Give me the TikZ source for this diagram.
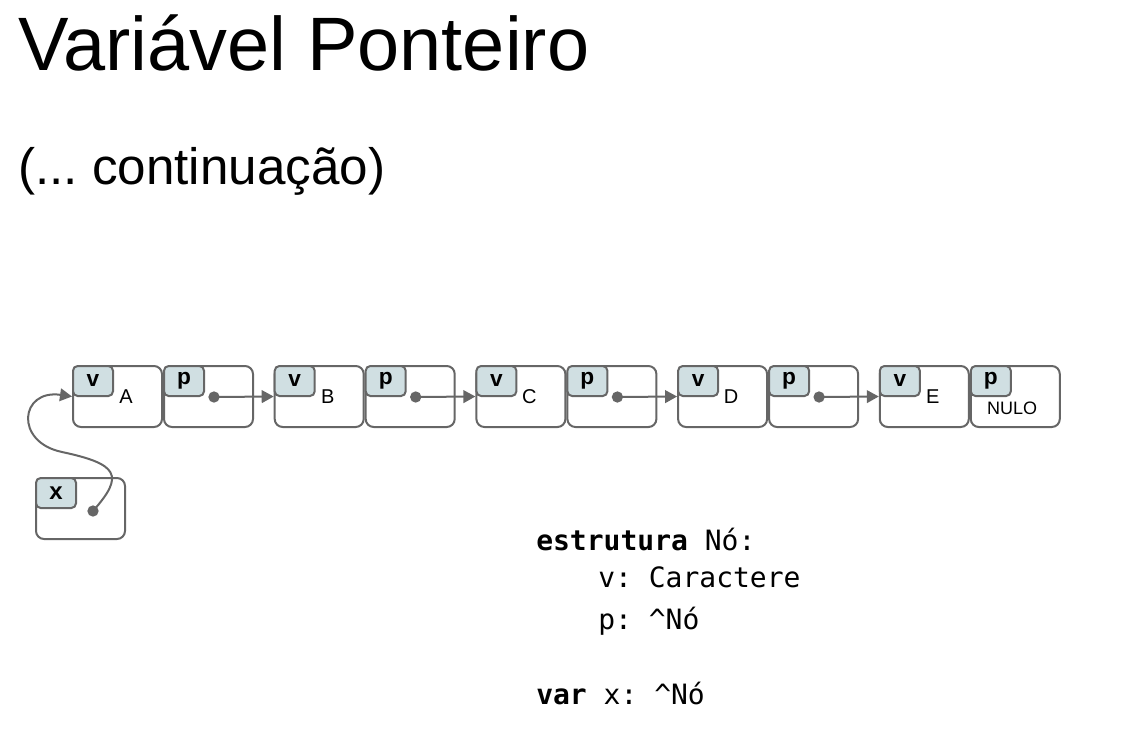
\documentclass[tikz,border=0pt]{standalone}
\usepackage{fontspec}
\setmainfont{Liberation Sans}
\newfontfamily\codefont{DejaVu Sans Mono}
\usetikzlibrary{arrows.meta}
\definecolor{linegray}{HTML}{666666}
\definecolor{tagfill}{HTML}{D0DFE2}
\tikzset{
  cell/.style={draw=linegray, line width=1.5pt, rounded corners=6pt, minimum width=66.75pt, minimum height=45.75pt, anchor=north west, inner sep=0pt},
  tagbox/.style={draw=linegray, fill=tagfill, line width=1.5pt, rounded corners=3.5pt, minimum width=30pt, minimum height=22.5pt, anchor=north west, inner sep=0pt, font=\bfseries\fontsize{17}{17}\selectfont},
  lbl/.style={font=\fontsize{15}{15}\selectfont, inner sep=0pt},
  ptr/.style={draw=linegray, line width=1.5pt, -{Triangle[length=9pt,width=9.5pt]}},
  dotc/.style={circle, fill=linegray, inner sep=0pt, minimum size=8.5pt},
  code/.style={font=\codefont\fontsize{21}{21}\selectfont, anchor=base west, inner sep=0pt}
}
\begin{document}
\frenchspacing
\begin{tikzpicture}[x=0.75pt, y=-0.75pt]
\useasboundingbox (0,0) rectangle (1124,739);
\node[anchor=base west, inner sep=0pt, font=\fontsize{56.8}{56.8}\selectfont] (title) at (18,70) {Variável Ponteiro};
\node[anchor=base west, inner sep=0pt, font=\fontsize{38.4}{38.4}\selectfont] (sub) at (18,184) {(... continuação)};

\foreach \i/\L in {0/A,1/B,2/C,3/D,4/E}{
  \pgfmathsetmacro{\xx}{72+\i*201.7}
  \node[cell] (v\L) at (\xx,365) {};
  \node[cell] (p\L) at (\xx+91,365) {};
  \node[tagbox] (tv\L) at (\xx,365) {v};
  \node[tagbox] (tp\L) at (\xx+91,365) {p};
  \node[lbl] (n\L) at (\xx+54,397) {\L};
}
\foreach \i/\L in {0/A,1/B,2/C,3/D}{
  \pgfmathsetmacro{\xx}{72+\i*201.7}
  \node[dotc] (d\L) at (\xx+142,397) {};
}
\draw[ptr] (dA.center) -- (vB.west);
\draw[ptr] (dB.center) -- (vC.west);
\draw[ptr] (dC.center) -- (vD.west);
\draw[ptr] (dD.center) -- (vE.west);
\node[lbl, font=\fontsize{13.5}{13.5}\selectfont] (nulo) at (1012,408) {NULO};

\node[cell] (xbox) at (35,477) {};
\node[tagbox, font=\bfseries\fontsize{18}{18}\selectfont] (tx) at (35,477) {x};
\node[dotc] (dx) at (93,511) {};
\draw[ptr] (dx.center) .. controls (125,475) and (118,464) .. (62,452) .. controls (14,442) and (20,389) .. (vA.west);

\node[code] (c1) at (536,550) {\textbf{estrutura} Nó:};
\node[code] (c2) at (598,587) {v: Caractere};
\node[code] (c3) at (598,629) {p: \^{}Nó};
\node[code] (c4) at (536,704) {\textbf{var} x: \^{}Nó};
\end{tikzpicture}
\end{document}
